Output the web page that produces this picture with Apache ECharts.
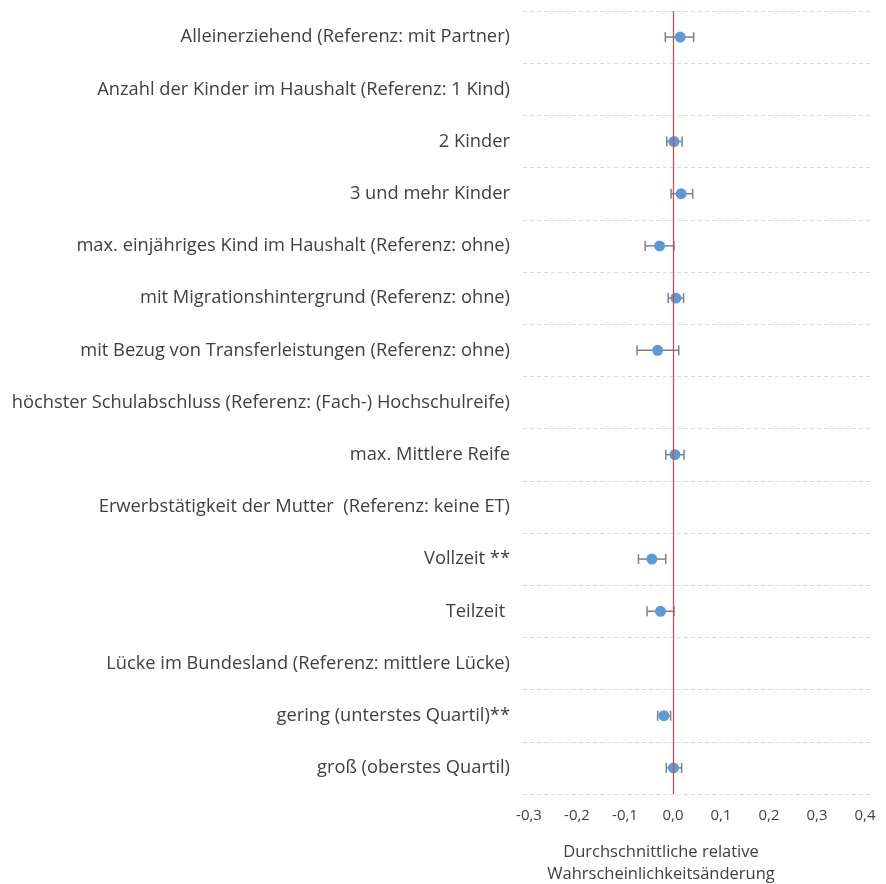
<!DOCTYPE html>
<html>
<head>
<meta charset="utf-8">
<script src="https://cdn.jsdelivr.net/npm/echarts@6/dist/echarts.min.js"></script>
<style>html,body{margin:0;padding:0;background:#fff}#c{width:886px;height:884px}</style>
</head>
<body>
<div id="c"></div>
<script>
const categories = [
  'Alleinerziehend (Referenz: mit Partner)',
  'Anzahl der Kinder im Haushalt (Referenz: 1 Kind)',
  '2 Kinder',
  '3 und mehr Kinder',
  'max. einjähriges Kind im Haushalt (Referenz: ohne)',
  'mit Migrationshintergrund (Referenz: ohne)',
  'mit Bezug von Transferleistungen (Referenz: ohne)',
  'höchster Schulabschluss (Referenz: (Fach-) Hochschulreife)',
  'max. Mittlere Reife',
  'Erwerbstätigkeit der Mutter  (Referenz: keine ET)',
  'Vollzeit **',
  'Teilzeit ',
  'Lücke im Bundesland (Referenz: mittlere Lücke)',
  'gering (unterstes Quartil)**',
  'groß (oberstes Quartil)'
];
const estimates = [0.015, null, 0.002, 0.017, -0.028, 0.006, -0.032, null, 0.004, null, -0.044, -0.026, null, -0.019, 0.001];
const lower =     [-0.016, null, -0.013, -0.004, -0.058, -0.010, -0.075, null, -0.015, null, -0.072, -0.054, null, -0.032, -0.014];
const upper =     [0.043, null, 0.019, 0.041, 0.002, 0.022, 0.012, null, 0.023, null, -0.015, 0.002, null, -0.005, 0.018];
const xTicks = [-0.3, -0.2, -0.1, 0.0, 0.1, 0.2, 0.3, 0.4];

const FONT = '"Open Sans"';
const chart = echarts.init(document.getElementById('c'), null, {renderer: 'canvas'});
const pts = estimates.map((v, i) => v == null ? null : [v, i]);
const bars = estimates.map((v, i) => v == null ? null : [lower[i], upper[i], i]).filter(d => d);

chart.setOption({
  animation: false,
  grid: [
    {left: 523, top: 11, width: 349, height: 783, containLabel: false},
    {left: 529, top: 11, width: 336, height: 783, containLabel: false}
  ],
  xAxis: [
    {gridIndex: 0, type: 'value', min: 0, max: 1, show: false},
    {
      gridIndex: 1, type: 'value', min: xTicks[0], max: xTicks[xTicks.length - 1], interval: 0.1,
      axisLine: {show: false}, axisTick: {show: false}, splitLine: {show: false},
      axisLabel: {
        margin: 14, color: '#404040', fontSize: 15, fontFamily: FONT,
        formatter: v => v.toFixed(1).replace('.', ',')
      }
    }
  ],
  yAxis: [
    {
      gridIndex: 0, type: 'category', data: categories, inverse: true,
      axisLine: {show: false}, axisTick: {show: false},
      splitLine: {show: true, lineStyle: {color: '#d9d9d9', type: [4, 3], width: 1}},
      axisLabel: {margin: 13, color: '#404040', fontSize: 18.3, fontFamily: FONT}
    },
    {
      gridIndex: 1, type: 'category', data: categories, inverse: true, show: false
    }
  ],
  series: [
    {
      type: 'custom',
      xAxisIndex: 1, yAxisIndex: 1,
      data: bars,
      renderItem: function (params, api) {
        const a = api.coord([api.value(0), api.value(2)]);
        const b = api.coord([api.value(1), api.value(2)]);
        const h = 5;
        const st = {stroke: '#808080', lineWidth: 1.5};
        return {type: 'group', children: [
          {type: 'line', shape: {x1: a[0], y1: a[1], x2: b[0], y2: b[1]}, style: st},
          {type: 'line', shape: {x1: a[0], y1: a[1] - h, x2: a[0], y2: a[1] + h}, style: st},
          {type: 'line', shape: {x1: b[0], y1: b[1] - h, x2: b[0], y2: b[1] + h}, style: st}
        ]};
      },
      z: 2
    },
    {
      type: 'scatter',
      xAxisIndex: 1, yAxisIndex: 1,
      data: pts,
      symbol: 'circle', symbolSize: 11,
      itemStyle: {color: '#5B9BD5', opacity: 1},
      z: 3,
      markLine: {
        silent: true, symbol: ['none', 'none'],
        label: {show: false},
        lineStyle: {color: '#d9453f', width: 1.2, type: 'solid'},
        data: [{xAxis: 0}]
      }
    }
  ],
  graphic: [{
    type: 'text', x: 661, y: 841,
    style: {
      text: 'Durchschnittliche relative\nWahrscheinlichkeitsänderung',
      fill: '#404040', font: '16.5px ' + FONT, textAlign: 'center', lineHeight: 22
    }
  }]
});
</script>
</body>
</html>
